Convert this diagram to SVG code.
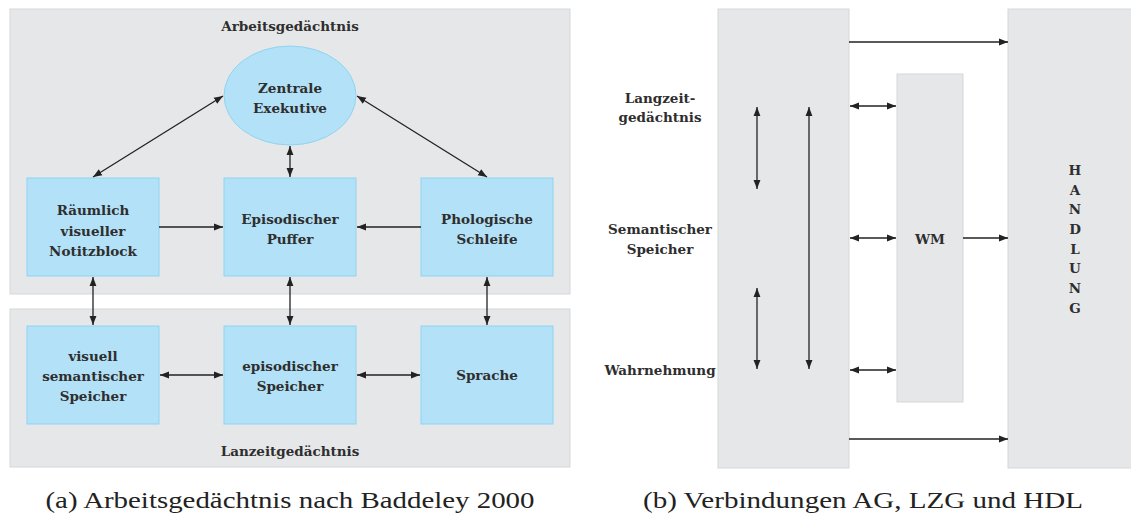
<svg xmlns="http://www.w3.org/2000/svg" width="1131" height="516" viewBox="0 0 1131 516">
<style>
.area{fill:#e6e7e9;stroke:#d6d7d9;stroke-width:1}
.node{fill:#b3e1f7;stroke:#8dd5f3;stroke-width:1}
.lbl{font-family:"DejaVu Serif","Liberation Serif",serif;font-weight:bold;font-size:13.5px;fill:#2e2e2e;text-anchor:middle}
.cap{font-family:"Liberation Serif","DejaVu Serif",serif;font-size:24px;fill:#222;text-anchor:middle}
.con{stroke:#222;stroke-width:1.3;fill:none}
</style>
<defs>
<marker id="ah" viewBox="0 0 10 10" refX="10" refY="5" markerWidth="9" markerHeight="9" orient="auto-start-reverse" markerUnits="userSpaceOnUse">
<path d="M0,1.2 L10,5 L0,8.8 Z" fill="#222"/>
</marker>
</defs>
<rect width="1131" height="516" fill="#fff"/>

<g id="arbeitsgedaechtnis">
<rect class="area" x="10" y="9" width="560" height="285"/>
<text class="lbl" x="290" y="31">Arbeitsgedächtnis</text>
</g>
<g id="langzeitgedaechtnis-area">
<rect class="area" x="10" y="309" width="560" height="158"/>
<text class="lbl" x="290" y="456">Lanzeitgedächtnis</text>
</g>

<g id="zentrale-exekutive">
<ellipse class="node" cx="290" cy="95.5" rx="66" ry="49.5"/>
<text class="lbl" x="290" y="93">Zentrale</text>
<text class="lbl" x="290" y="113">Exekutive</text>
</g>
<g id="raeumlich">
<rect class="node" x="27" y="178" width="132" height="98"/>
<text class="lbl" x="93" y="215">Räumlich</text>
<text class="lbl" x="93" y="236">visueller</text>
<text class="lbl" x="93" y="256">Notitzblock</text>
</g>
<g id="puffer">
<rect class="node" x="224" y="178" width="132" height="98"/>
<text class="lbl" x="290" y="224">Episodischer</text>
<text class="lbl" x="290" y="244">Puffer</text>
</g>
<g id="schleife">
<rect class="node" x="421" y="178" width="132" height="98"/>
<text class="lbl" x="487" y="224">Phologische</text>
<text class="lbl" x="487" y="244">Schleife</text>
</g>
<g id="visuell-semantisch">
<rect class="node" x="27" y="326" width="132" height="98"/>
<text class="lbl" x="93" y="361">visuell</text>
<text class="lbl" x="93" y="381">semantischer</text>
<text class="lbl" x="93" y="401">Speicher</text>
</g>
<g id="episodisch">
<rect class="node" x="224" y="326" width="132" height="98"/>
<text class="lbl" x="290" y="371">episodischer</text>
<text class="lbl" x="290" y="391">Speicher</text>
</g>
<g id="sprache">
<rect class="node" x="421" y="326" width="132" height="98"/>
<text class="lbl" x="487" y="380">Sprache</text>
</g>

<g id="lzg">
<rect class="area" x="718" y="9" width="131" height="459"/>
</g>
<g id="wm">
<rect class="area" x="897" y="74" width="66" height="328"/>
<text class="lbl" x="930" y="244">WM</text>
</g>
<g id="handlung">
<rect class="area" x="1008" y="9" width="130" height="459"/>
<text class="lbl" x="1075" y="175">H</text>
<text class="lbl" x="1075" y="195">A</text>
<text class="lbl" x="1075" y="214">N</text>
<text class="lbl" x="1075" y="234">D</text>
<text class="lbl" x="1075" y="254">L</text>
<text class="lbl" x="1075" y="273">U</text>
<text class="lbl" x="1075" y="293">N</text>
<text class="lbl" x="1075" y="313">G</text>
</g>
<g id="lzg-labels">
<text class="lbl" x="660" y="103">Langzeit-</text>
<text class="lbl" x="660" y="122">gedächtnis</text>
<text class="lbl" x="660" y="234">Semantischer</text>
<text class="lbl" x="660" y="254">Speicher</text>
<text class="lbl" x="660" y="375">Wahrnehmung</text>
</g>

<g id="connectors">
<line class="con" x1="223" y1="96" x2="93" y2="177" marker-start="url(#ah)" marker-end="url(#ah)"/>
<line class="con" x1="357" y1="96" x2="487" y2="177" marker-start="url(#ah)" marker-end="url(#ah)"/>
<line class="con" x1="290" y1="146" x2="290" y2="177" marker-start="url(#ah)" marker-end="url(#ah)"/>
<line class="con" x1="159" y1="227" x2="223" y2="227" marker-end="url(#ah)"/>
<line class="con" x1="421" y1="227" x2="357" y2="227" marker-end="url(#ah)"/>
<line class="con" x1="93" y1="277" x2="93" y2="325" marker-start="url(#ah)" marker-end="url(#ah)"/>
<line class="con" x1="290" y1="277" x2="290" y2="325" marker-start="url(#ah)" marker-end="url(#ah)"/>
<line class="con" x1="487" y1="277" x2="487" y2="325" marker-start="url(#ah)" marker-end="url(#ah)"/>
<line class="con" x1="160" y1="375" x2="223" y2="375" marker-start="url(#ah)" marker-end="url(#ah)"/>
<line class="con" x1="357" y1="375" x2="420" y2="375" marker-start="url(#ah)" marker-end="url(#ah)"/>

<line class="con" x1="849" y1="42" x2="1008" y2="42" marker-end="url(#ah)"/>
<line class="con" x1="850" y1="106" x2="896" y2="106" marker-start="url(#ah)" marker-end="url(#ah)"/>
<line class="con" x1="850" y1="238" x2="896" y2="238" marker-start="url(#ah)" marker-end="url(#ah)"/>
<line class="con" x1="963" y1="238" x2="1008" y2="238" marker-end="url(#ah)"/>
<line class="con" x1="850" y1="370" x2="896" y2="370" marker-start="url(#ah)" marker-end="url(#ah)"/>
<line class="con" x1="849" y1="439" x2="1008" y2="439" marker-end="url(#ah)"/>
<line class="con" x1="757" y1="107" x2="757" y2="189" marker-start="url(#ah)" marker-end="url(#ah)"/>
<line class="con" x1="757" y1="288" x2="757" y2="369" marker-start="url(#ah)" marker-end="url(#ah)"/>
<line class="con" x1="809" y1="107" x2="809" y2="369" marker-start="url(#ah)" marker-end="url(#ah)"/>
</g>

<text class="cap" x="290" y="508" textLength="489" lengthAdjust="spacingAndGlyphs">(a) Arbeitsgedächtnis nach Baddeley 2000</text>
<text class="cap" x="863" y="508" textLength="440" lengthAdjust="spacingAndGlyphs">(b) Verbindungen AG, LZG und HDL</text>
</svg>
